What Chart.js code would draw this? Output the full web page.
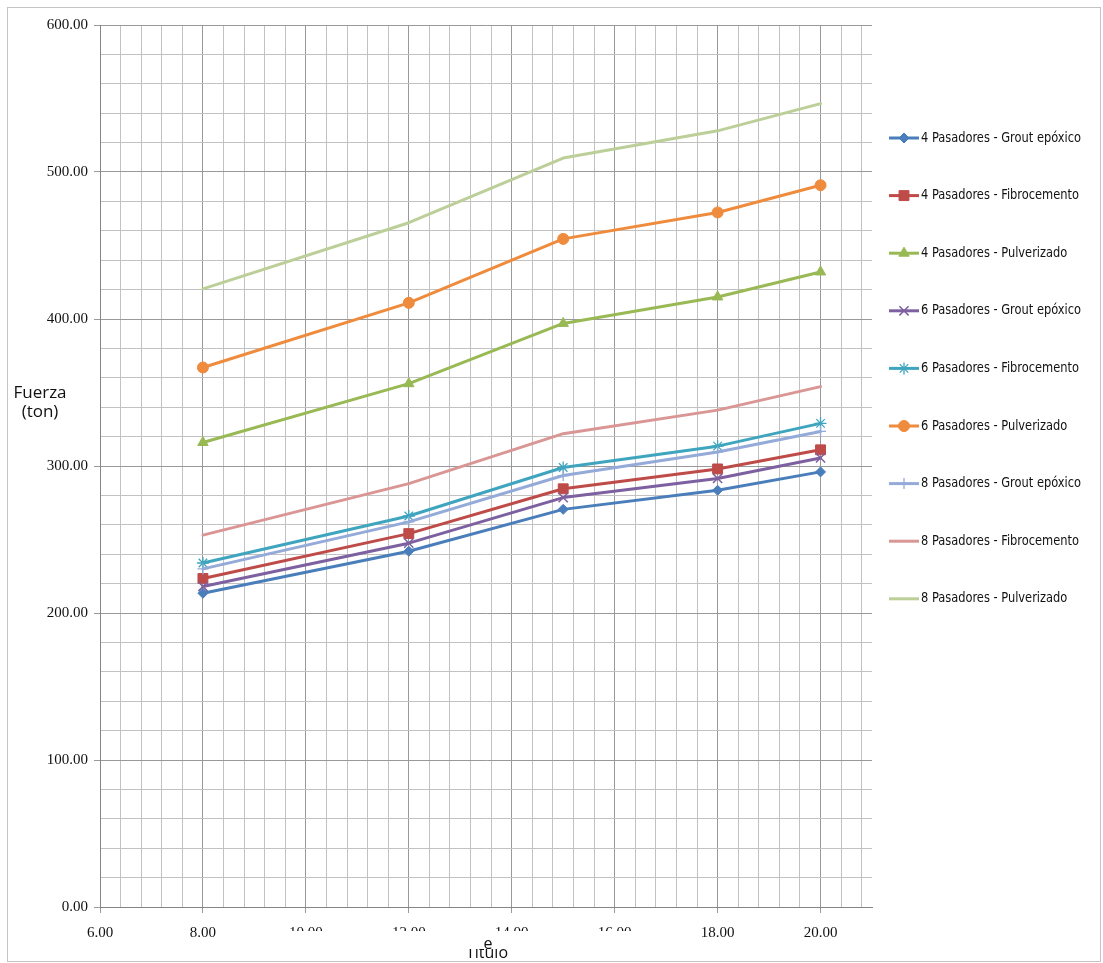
<!DOCTYPE html>
<html>
<head>
<meta charset="utf-8">
<title>Fuerza vs espesor</title>
<script src="https://cdn.jsdelivr.net/npm/chart.js@4/dist/chart.umd.min.js"></script>
<style>
  html, body { margin: 0; padding: 0; background: #ffffff; }
  #wrap { position: relative; width: 1103px; height: 963px; }
  canvas { display: block; }
</style>
</head>
<body>
<div id="wrap"><canvas id="chart" width="1103" height="963"></canvas></div>
<script>
// Espesor (x) and fuerza (ton) for each pasador / relleno combination
const espesores = [8, 12, 15, 18, 20];

const seriesNames = [
  '4 Pasadores - Grout epóxico',
  '4 Pasadores - Fibrocemento',
  '4 Pasadores - Pulverizado',
  '6 Pasadores - Grout epóxico',
  '6 Pasadores - Fibrocemento',
  '6 Pasadores - Pulverizado',
  '8 Pasadores - Grout epóxico',
  '8 Pasadores - Fibrocemento',
  '8 Pasadores - Pulverizado'
];

const grout4 = [213.4, 242, 270.5, 283.5, 296];
const fibro4 = [223.5, 254, 284.5, 298, 311];
const pulv4  = [316, 356, 397, 415, 432];
const grout6 = [218, 247.5, 278.5, 291.5, 305.5];
const fibro6 = [234, 266, 299, 313.5, 329];
const pulv6  = [367, 411, 454.5, 472.5, 491];
const grout8 = [230, 262, 293.5, 309.5, 323.5];
const fibro8 = [253, 288, 322, 338, 354];
const pulv8  = [420.5, 465.5, 509.5, 528, 546.5];

const xTickLabels = [6, 8, 10, 12, 14, 16, 18, 20];
const yTickLabels = [0, 100, 200, 300, 400, 500, 600];

// Styling per series (colour, marker)
const styles = [
  { color: '#4a7ebb', point: 'rectRot',  r: 5,   bw: 1 },
  { color: '#be4b48', point: 'rect',     r: 7,   bw: 1 },
  { color: '#98b954', point: 'triangle', r: 6,   bw: 1 },
  { color: '#7d60a0', point: 'crossRot', r: 6.5, bw: 1.5 },
  { color: '#3fa5bf', point: 'star',     r: 6,   bw: 1.3 },
  { color: '#ef8b3c', point: 'circle',   r: 5.5, bw: 1 },
  { color: '#94aad8', point: 'cross',    r: 5.5, bw: 1.3 },
  { color: '#d99694', point: false,      r: 0,   bw: 0 },
  { color: '#bccf99', point: false,      r: 0,   bw: 0 }
];

const values = [grout4, fibro4, pulv4, grout6, fibro6, pulv6, grout8, fibro8, pulv8];

const datasets = values.map((vals, i) => ({
  label: seriesNames[i],
  data: espesores.map((x, k) => ({ x: x, y: vals[k] })),
  borderColor: styles[i].color,
  backgroundColor: styles[i].color,
  pointBackgroundColor: styles[i].color,
  pointBorderColor: styles[i].color,
  pointStyle: styles[i].point,
  pointRadius: styles[i].r,
  pointBorderWidth: styles[i].bw,
  pointHoverRadius: styles[i].r,
  borderWidth: 3,
  borderJoinStyle: 'round',
  borderCapStyle: 'round',
  tension: 0,
  fill: false,
  order: values.length - 1 - i
}));

const isXMajor = v => xTickLabels.some(t => Math.abs(t - v) < 1e-6);
const isYMajor = v => yTickLabels.some(t => Math.abs(t - v) < 1e-6);

const MAJOR_GRID = '#999999';
const MINOR_GRID = '#c2c2c2';
const LEGEND_FONT = '14px "Liberation Sans Narrow", "DejaVu Sans Condensed", sans-serif';

// Frame, background and free text (axis titles, legend)
const decor = {
  id: 'decor',
  beforeDraw(chart) {
    const ctx = chart.ctx;
    ctx.save();
    ctx.fillStyle = '#ffffff';
    ctx.fillRect(0, 0, chart.width, chart.height);
    ctx.strokeStyle = '#c4c4c4';
    ctx.lineWidth = 1;
    ctx.strokeRect(7.5, 7.5, 1093, 954);
    ctx.restore();
  },
  afterDraw(chart) {
    const ctx = chart.ctx;
    ctx.save();

    // y-axis title
    ctx.fillStyle = '#111111';
    ctx.font = '17px "Open Sans", "DejaVu Sans", sans-serif';
    ctx.textAlign = 'center';
    ctx.textBaseline = 'alphabetic';
    ctx.fillText('Fuerza', 40, 398);
    ctx.fillText('(ton)', 40, 417);

    // x-axis title box
    ctx.font = '16px "Open Sans", "DejaVu Sans", sans-serif';
    ctx.fillText('Título', 487, 958);
    ctx.fillStyle = '#ffffff';
    ctx.fillRect(272, 931, 430, 18);
    ctx.fillStyle = '#111111';
    ctx.fillText('e', 488, 949);

    // legend
    const drawPoint = Chart.helpers && Chart.helpers.drawPoint;
    const x0 = 889, x1 = 919, xm = 904, xt = 921;
    ctx.font = LEGEND_FONT;
    const refWidth = ctx.measureText(seriesNames[0]).width;
    const squeeze = Math.min(1, 160 / refWidth);
    chart.data.datasets.forEach((ds, i) => {
      const y = 138 + i * 57.6;
      ctx.strokeStyle = ds.borderColor;
      ctx.fillStyle = ds.borderColor;
      ctx.lineWidth = 3;
      ctx.lineCap = 'butt';
      ctx.beginPath();
      ctx.moveTo(x0, y);
      ctx.lineTo(x1, y);
      ctx.stroke();
      if (ds.pointStyle && drawPoint) {
        ctx.lineWidth = ds.pointBorderWidth;
        drawPoint(ctx, {
          pointStyle: ds.pointStyle,
          rotation: 0,
          radius: ds.pointRadius,
          borderWidth: ds.pointBorderWidth
        }, xm, y);
      }
      ctx.save();
      ctx.translate(xt, y);
      ctx.scale(squeeze, 1);
      ctx.fillStyle = '#111111';
      ctx.font = LEGEND_FONT;
      ctx.textAlign = 'left';
      ctx.textBaseline = 'middle';
      ctx.fillText(ds.label, 0, 0);
      ctx.restore();
    });

    ctx.restore();
  }
};

new Chart(document.getElementById('chart'), {
  type: 'line',
  data: { datasets: datasets },
  plugins: [decor],
  options: {
    responsive: false,
    animation: false,
    devicePixelRatio: 1,
    layout: { padding: { top: 25, right: 231, bottom: 0, left: 0 } },
    plugins: {
      legend: { display: false },
      tooltip: { enabled: false }
    },
    scales: {
      x: {
        type: 'linear',
        min: 6,
        max: 21,
        afterBuildTicks(scale) {
          const ticks = [];
          for (let i = 0; i <= 37; i++) {
            ticks.push({ value: Math.round((6 + 0.4 * i) * 10) / 10 });
          }
          scale.ticks = ticks;
        },
        afterFit(scale) { scale.height = 56; },
        ticks: {
          autoSkip: false,
          maxRotation: 0,
          padding: 11,
          color: '#111111',
          font: { family: '"Liberation Serif", "DejaVu Serif", serif', size: 15 },
          callback: v => (isXMajor(v) ? Number(v).toFixed(2) : '')
        },
        grid: {
          color: c => (c.tick && isXMajor(c.tick.value) ? MAJOR_GRID : MINOR_GRID),
          tickColor: c => (c.tick && isXMajor(c.tick.value) ? MAJOR_GRID : 'rgba(0,0,0,0)'),
          tickLength: 6,
          lineWidth: 1
        },
        border: { color: '#858585', width: 1 }
      },
      y: {
        type: 'linear',
        min: 0,
        max: 600,
        afterBuildTicks(scale) {
          const ticks = [];
          for (let v = 0; v <= 600; v += 20) ticks.push({ value: v });
          scale.ticks = ticks;
        },
        afterFit(scale) { scale.width = 100; },
        ticks: {
          autoSkip: false,
          padding: 6,
          color: '#111111',
          font: { family: '"Liberation Serif", "DejaVu Serif", serif', size: 15 },
          callback: v => (isYMajor(v) ? Number(v).toFixed(2) : '')
        },
        grid: {
          color: c => (c.tick && isYMajor(c.tick.value) ? MAJOR_GRID : MINOR_GRID),
          tickColor: c => (c.tick && isYMajor(c.tick.value) ? MAJOR_GRID : 'rgba(0,0,0,0)'),
          tickLength: 6,
          lineWidth: 1
        },
        border: { color: '#858585', width: 1 }
      }
    }
  }
});
</script>
</body>
</html>
